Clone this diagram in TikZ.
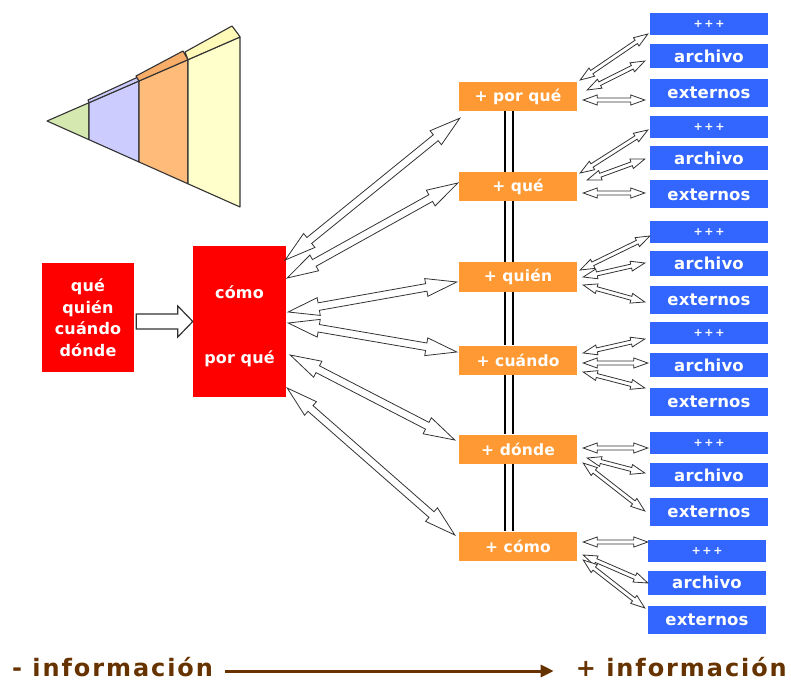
\documentclass[tikz,border=0pt]{standalone}
\usepackage{fontspec}
\setmainfont{DejaVu Sans}
\newfontfamily\boxfont{DejaVu Sans}[LetterSpace=1]
\newfontfamily\plusfont{DejaVu Sans}[LetterSpace=15]
\newfontfamily\botfont{DejaVu Sans}[LetterSpace=8]
\usetikzlibrary{calc,arrows.meta}
\definecolor{redbox}{HTML}{FF0000}
\definecolor{orbox}{HTML}{FF9933}
\definecolor{bluebox}{HTML}{3366FF}
\definecolor{brownt}{HTML}{663300}
\definecolor{pgreen}{HTML}{D4E8B0}
\definecolor{pblue}{HTML}{CCCCFF}
\definecolor{porange}{HTML}{FFBB7A}
\definecolor{pyellow}{HTML}{FFFFCC}
\definecolor{porangetop}{HTML}{F8AE68}
\definecolor{pyellowtop}{HTML}{FFFAB8}
\definecolor{arrline}{HTML}{333333}
% hollow double-headed arrow: start, end, head length, head half width, shaft half width
\newcommand\HA[5]{%
 \draw[harr] let \p1=#1, \p2=#2, \n1={atan2(\y2-\y1,\x2-\x1)} in
  (\p1) -- ($(\p1)+(\n1:#3)+(\n1+90:#4)$) -- ($(\p1)+(\n1:#3)+(\n1+90:#5)$)
  -- ($(\p2)+(\n1+180:#3)+(\n1+90:#5)$) -- ($(\p2)+(\n1+180:#3)+(\n1+90:#4)$) -- (\p2)
  -- ($(\p2)+(\n1+180:#3)+(\n1-90:#4)$) -- ($(\p2)+(\n1+180:#3)+(\n1-90:#5)$)
  -- ($(\p1)+(\n1:#3)+(\n1-90:#5)$) -- ($(\p1)+(\n1:#3)+(\n1-90:#4)$) -- cycle;}
% hollow single-headed arrow
\newcommand\HAone[5]{%
 \draw[harr, line width=1.2pt] let \p1=#1, \p2=#2, \n1={atan2(\y2-\y1,\x2-\x1)} in
  ($(\p1)+(\n1+90:#5)$)
  -- ($(\p2)+(\n1+180:#3)+(\n1+90:#5)$) -- ($(\p2)+(\n1+180:#3)+(\n1+90:#4)$) -- (\p2)
  -- ($(\p2)+(\n1+180:#3)+(\n1-90:#4)$) -- ($(\p2)+(\n1+180:#3)+(\n1-90:#5)$)
  -- ($(\p1)+(\n1-90:#5)$) -- cycle;}
\newcommand\BIG[2]{\HA{#1}{#2}{31pt}{9pt}{3.8pt}}
\newcommand\SML[2]{\HA{#1}{#2}{14pt}{5pt}{2pt}}
\begin{document}
\begin{tikzpicture}[x=1pt,y=-1pt,
  harr/.style={draw=arrline, fill=white, line width=0.8pt, line join=miter},
  redn/.style={fill=redbox, text=white, inner sep=0pt, align=center,
    font=\boxfont\bfseries\fontsize{16}{21.5}\selectfont},
  orn/.style={fill=orbox, text=white, inner sep=0pt, minimum width=118, minimum height=29,
    font=\boxfont\bfseries\fontsize{15.5}{17}\selectfont},
  bln/.style={fill=bluebox, text=white, inner sep=0pt, minimum width=118,
    font=\boxfont\bfseries\fontsize{16.5}{18}\selectfont},
  blp/.style={bln, minimum height=22, font=\plusfont\bfseries\fontsize{11}{12}\selectfont},
  bla/.style={bln, minimum height=24},
  ble/.style={bln, minimum height=28},
  vline/.style={draw=black, line width=1.1pt},
  pyr/.style={draw=arrline, line width=1.1pt, line join=round},
  bot/.style={text=brownt, inner sep=0pt, font=\botfont\bfseries\fontsize{24}{26}\selectfont},
  botarrow/.style={draw=brownt, line width=3pt, -{Triangle[length=13pt,width=12pt]}}
]
\useasboundingbox (0,0) rectangle (791,684);

% ---- pyramid ----
\fill[pgreen] (47,121) -- (89,102.7) -- (89,139.7) -- cycle;
\draw[pyr] (47,121) -- (89,102.7) -- (89,139.7) -- cycle;
\draw[pyr, fill=pblue] (89,102.7) -- (139,81) -- (139,162) -- (89,139.7) -- cycle;
\draw[pyr, fill=porange] (139,81) -- (188,59.7) -- (188,183.8) -- (139,162) -- cycle;
\draw[pyr, fill=pyellow] (188,59.7) -- (240,37) -- (240,207) -- (188,183.8) -- cycle;
\draw[pyr, fill=pblue] (89,102.7) -- (88,100) -- (137,77.5) -- (139,81) -- cycle;
\draw[pyr, fill=porangetop] (139,81) -- (136,76) -- (183,51) -- (188,59.7) -- cycle;
\draw[pyr, fill=pyellowtop] (188,59.7) -- (185,52) -- (232,26) -- (238,34) -- (240,37) -- cycle;

% ---- red boxes ----
\node[redn, minimum width=92, minimum height=109] (r1) at (88,317.5) {qué\\quién\\cuándo\\dónde};
\node[redn, minimum width=93, minimum height=151, text height=87pt, text depth=4pt] (r2) at (239.5,321.5) {cómo\\[43.5pt]por qué};

% ---- orange boxes ----
\node[orn] (o1) at (518,96.5) {+ por qué};
\node[orn] (o2) at (518,186.5) {+ qué};
\node[orn] (o3) at (518,277) {+ quién};
\node[orn] (o4) at (518,360) {+ cuándo};
\node[orn] (o5) at (518,449) {+ dónde};
\node[orn] (o6) at (518,546) {+ cómo};

% ---- blue boxes ----
\node[blp] (b1p) at (709,24.5) {+++};
\node[bla] (b1a) at (709,56) {archivo};
\node[ble] (b1e) at (709,93) {externos};
\node[blp] (b2p) at (709,127) {+++};
\node[bla] (b2a) at (709,158.5) {archivo};
\node[ble] (b2e) at (709,194.5) {externos};
\node[blp] (b3p) at (709,232) {+++};
\node[bla] (b3a) at (709,263.5) {archivo};
\node[ble] (b3e) at (709,299.5) {externos};
\node[blp] (b4p) at (709,333) {+++};
\node[bla] (b4a) at (709,365) {archivo};
\node[ble] (b4e) at (709,401.5) {externos};
\node[blp] (b5p) at (709,443) {+++};
\node[bla] (b5a) at (709,475) {archivo};
\node[ble] (b5e) at (709,512) {externos};
\node[blp] (b6p) at (707,551) {+++};
\node[bla] (b6a) at (707,582.5) {archivo};
\node[ble] (b6e) at (707,619.5) {externos};

% ---- vertical double lines between orange boxes ----
\foreach \a/\b in {o1/o2,o2/o3,o3/o4,o4/o5,o5/o6}{
  \draw[vline] ([xshift=-13]\a.south) -- ([xshift=-13]\b.north);
  \draw[vline] ([xshift=-5]\a.south) -- ([xshift=-5]\b.north);
}

% ---- main arrow red -> red ----
\HAone{([shift={(2,4)}]r1.east)}{(r2.west)}{15pt}{15.5pt}{7.5pt}

% ---- red -> orange ----
\BIG{([shift={(-1,-61.5)}]r2.east)}{([shift={(1,7)}]o1.south west)}
\BIG{([shift={(1,-43.5)}]r2.east)}{([shift={(-1,-3.5)}]o2.west)}
\BIG{([shift={(2,-9.5)}]r2.east)}{([shift={(-2,5)}]o3.west)}
\BIG{([shift={(2,1.5)}]r2.east)}{([shift={(-2,-8)}]o4.west)}
\BIG{([shift={(4,33.5)}]r2.east)}{([shift={(-4,-9)}]o5.west)}
\BIG{([shift={(1,66.5)}]r2.east)}{([shift={(-4,-11)}]o6.west)}

% ---- orange -> blue ----
\SML{([shift={(3,-16.5)}]o1.east)}{([shift={(-2,9.5)}]b1p.west)}
\SML{([shift={(10,-6.5)}]o1.east)}{([shift={(-5,5)}]b1a.west)}
\SML{([shift={(6,3.5)}]o1.east)}{([shift={(-5,7)}]b1e.west)}

\SML{([shift={(3,-13.5)}]o2.east)}{([shift={(-2,3)}]b2p.west)}
\SML{([shift={(10,-6.5)}]o2.east)}{([shift={(-5,0.5)}]b2a.west)}
\SML{([shift={(6,6.5)}]o2.east)}{([shift={(-5,-1.5)}]b2e.west)}

\SML{([shift={(3,-7)}]o3.east)}{([shift={(0,4)}]b3p.west)}
\SML{([shift={(6,0)}]o3.east)}{([shift={(-5,-0.5)}]b3a.west)}
\SML{([shift={(6,8)}]o3.east)}{([shift={(-5,2.5)}]b3e.west)}

\SML{([shift={(6,-7)}]o4.east)}{([shift={(-5,6)}]b4p.west)}
\SML{([shift={(6,3)}]o4.east)}{([shift={(-2,-2)}]b4a.west)}
\SML{([shift={(6,12)}]o4.east)}{([shift={(-5,-13.5)}]b4e.west)}

\SML{([shift={(6,-1)}]o5.east)}{([shift={(-2,5)}]b5p.west)}
\SML{([shift={(10,9)}]o5.east)}{([shift={(-5,-2)}]b5a.west)}
\SML{([shift={(6,14)}]o5.east)}{([shift={(-5,-1)}]b5e.west)}

\SML{([shift={(6,-4)}]o6.east)}{([shift={(0,-9)}]b6p.west)}
\SML{([shift={(6,9)}]o6.east)}{([shift={(0,0.5)}]b6a.west)}
\SML{([shift={(6,14)}]o6.east)}{([shift={(-3,-11.5)}]b6e.west)}

% ---- bottom ----
\node[bot, anchor=base west] (lo) at (12,676) {- información};
\node[bot, anchor=base east] (hi) at (787,676) {+ información};
\draw[botarrow] ([shift={(12,-5)}]lo.base east) -- ([shift={(-22,-5)}]hi.base west);
\end{tikzpicture}
\end{document}
